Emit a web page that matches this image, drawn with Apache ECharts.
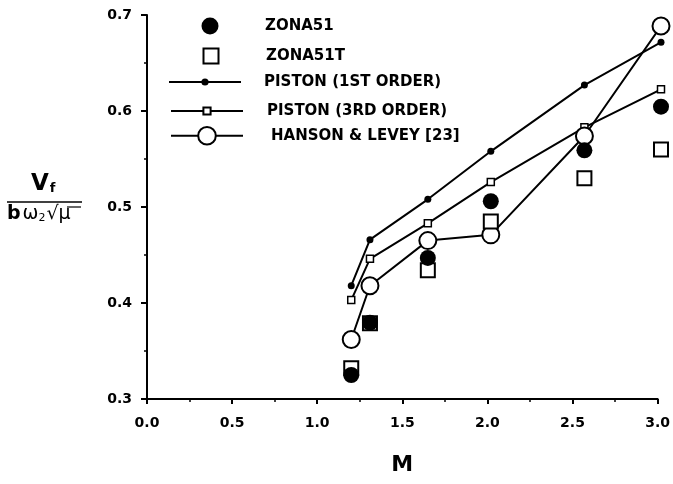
<!DOCTYPE html>
<html>
<head>
<meta charset="utf-8">
<script src="https://cdn.jsdelivr.net/npm/echarts@6/dist/echarts.min.js"></script>
<style>html,body{margin:0;padding:0;background:#fff;}#c{width:673px;height:484px;}</style>
</head>
<body>
<div id="c"></div>
<script>
var machNumbers = [1.2, 1.31, 1.65, 2.02, 2.57, 3.02];
var zona51 = [0.325, 0.3795, 0.447, 0.506, 0.559, 0.6045];
var zona51t = [0.332, 0.379, 0.434, 0.485, 0.530, 0.560];
var piston1 = [0.418, 0.466, 0.508, 0.558, 0.627, 0.6715];
var piston3 = [0.403, 0.446, 0.483, 0.526, 0.583, 0.6226];
var hanson = [0.362, 0.418, 0.465, 0.471, 0.574, 0.6885];
var seriesNames = ['ZONA51', 'ZONA51T', 'PISTON (1ST ORDER)', 'PISTON (3RD ORDER)', 'HANSON & LEVEY [23]'];

function pairs(ys) { return machNumbers.map(function (x, i) { return [x, ys[i]]; }); }

var FONT = 'DejaVu Sans';
var chart = echarts.init(document.getElementById('c'), null, {renderer: 'canvas'});

function leg(name, center, w, h, left, textX) {
  return {
    data: [name], orient: 'vertical', left: left, top: center - h / 2, padding: 0,
    itemWidth: w, itemHeight: h, selectedMode: false,
    textStyle: {fontFamily: FONT, fontWeight: 'bold', fontSize: 15, color: '#000',
      padding: [0, 0, 0, textX - left - w - 5]}
  };
}

chart.setOption({
  animation: false,
  backgroundColor: '#fff',
  grid: {left: 147, right: 15, top: 15, bottom: 85},
  legend: [
    leg(seriesNames[0], 26, 17, 17, 201.5, 265),
    leg(seriesNames[1], 55, 15, 15, 202.5, 265),
    leg(seriesNames[2], 79, 72, 9, 168, 263),
    leg(seriesNames[3], 108, 72, 9, 170, 266),
    leg(seriesNames[4], 137, 72, 22, 170, 270)
  ],
  xAxis: {
    type: 'value', min: 0, max: 3, interval: 0.5,
    name: 'M', nameLocation: 'middle', nameGap: 55,
    nameTextStyle: {fontFamily: FONT, fontWeight: 'bold', fontSize: 22, color: '#000'},
    axisLine: {lineStyle: {color: '#000', width: 2}},
    axisTick: {length: 5, lineStyle: {color: '#000', width: 2}},
    minorTick: {show: true, splitNumber: 2, length: 3, lineStyle: {color: '#000', width: 1.5}},
    splitLine: {show: false},
    axisLabel: {margin: 17, fontFamily: FONT, fontWeight: 'bold', fontSize: 14, color: '#000',
      formatter: function (v) { return v.toFixed(1); }}
  },
  yAxis: {
    type: 'value', min: 0.3, max: 0.7, interval: 0.1,
    axisLine: {show: true, lineStyle: {color: '#000', width: 2}},
    axisTick: {show: true, length: 6, lineStyle: {color: '#000', width: 2}},
    minorTick: {show: true, splitNumber: 2, length: 3, lineStyle: {color: '#000', width: 1.5}},
    splitLine: {show: false},
    axisLabel: {margin: 15, fontFamily: FONT, fontWeight: 'bold', fontSize: 14, color: '#000',
      formatter: function (v) { return v.toFixed(1); }}
  },
  graphic: [
    {type: 'text', left: 31, top: 173, style: {
      text: '{v|V}{s|f}', rich: {
        v: {fontFamily: FONT, fontWeight: 'bold', fontSize: 23, fill: '#000'},
        s: {fontFamily: FONT, fontWeight: 'bold', fontSize: 13, fill: '#000', padding: [9, 0, 0, 1]}
      }}},
    {type: 'line', shape: {x1: 7, y1: 202, x2: 82, y2: 202}, style: {stroke: '#000', lineWidth: 1.5}},
    {type: 'text', left: 7, top: 205, style: {
      text: '{b|b}{w|ω}{s|2}{r|√μ}', rich: {
        b: {fontFamily: FONT, fontWeight: 'bold', fontSize: 19, fill: '#000'},
        w: {fontFamily: FONT, fontSize: 19, fill: '#000', padding: [0, 0, 0, 2]},
        s: {fontFamily: FONT, fontSize: 11, fill: '#000', padding: [8, 0, 0, 0]},
        r: {fontFamily: FONT, fontSize: 19, fill: '#000', padding: [0, 0, 0, 1]}
      }}},
    {type: 'line', shape: {x1: 67, y1: 207, x2: 81, y2: 207}, style: {stroke: '#000', lineWidth: 1.2}}
  ],
  series: [
    {name: seriesNames[2], type: 'line', data: pairs(piston1), symbol: 'circle', symbolSize: 7, clip: false,
      itemStyle: {color: '#000'}, lineStyle: {color: '#000', width: 2}, z: 2},
    {name: seriesNames[3], type: 'line', data: pairs(piston3), symbol: 'rect', symbolSize: 7, clip: false,
      itemStyle: {color: '#fff', borderColor: '#000', borderWidth: 1.5}, lineStyle: {color: '#000', width: 2}, z: 2},
    {name: seriesNames[4], type: 'line', data: pairs(hanson), symbol: 'circle', symbolSize: 17, clip: false,
      itemStyle: {color: '#fff', borderColor: '#000', borderWidth: 2}, lineStyle: {color: '#000', width: 2}, z: 3},
    {name: seriesNames[1], type: 'scatter', data: pairs(zona51t), symbol: 'rect', symbolSize: 14, clip: false,
      itemStyle: {color: '#fff', borderColor: '#000', borderWidth: 2, opacity: 1}, z: 4},
    {name: seriesNames[0], type: 'scatter', data: pairs(zona51), symbol: 'circle', symbolSize: 16, clip: false,
      itemStyle: {color: '#000', opacity: 1}, z: 5}
  ]
});
</script>
</body>
</html>
